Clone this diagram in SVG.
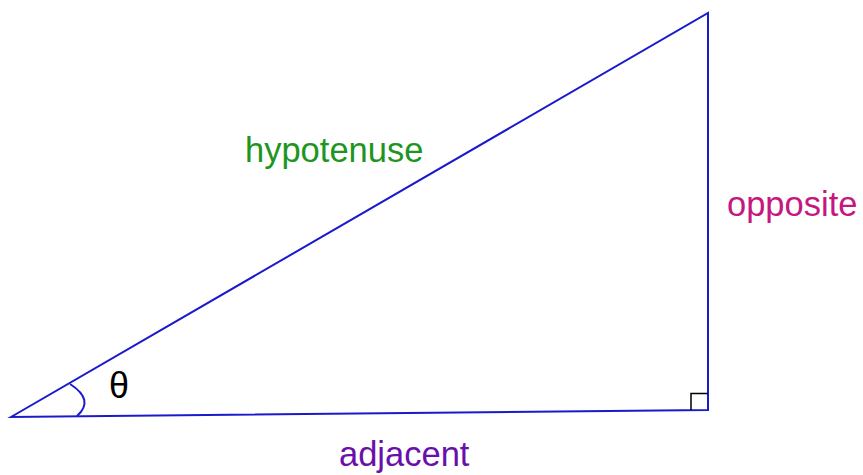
<svg xmlns="http://www.w3.org/2000/svg" width="863" height="475" viewBox="0 0 863 475">
<style>
.side{fill:none;stroke:#1a1acc;stroke-width:2;stroke-linejoin:miter}
.lbl{font-family:"Liberation Sans",Arial,sans-serif;font-size:34.5px}
</style>
<rect width="863" height="475" fill="#ffffff"/>
<g id="connectors">
<path class="side" d="M11,417 L708,13 L708,410 Z"/>
<path class="side" d="M70,384 Q95,400 77,416"/>
<path fill="none" stroke="#000000" stroke-width="1.5" d="M691,410 L691,393.5 L708,393.5"/>
</g>
<g id="hypotenuse"><text class="lbl" x="245" y="162" fill="#1e951e">hypotenuse</text></g>
<g id="opposite"><text class="lbl" x="727" y="216" fill="#c4177f">opposite</text></g>
<g id="adjacent"><text class="lbl" x="339" y="466" fill="#6a10aa">adjacent</text></g>
<g id="theta"><text x="109" y="398" font-family="Liberation Sans,Arial,sans-serif" font-size="36" fill="#000000">θ</text></g>
</svg>
